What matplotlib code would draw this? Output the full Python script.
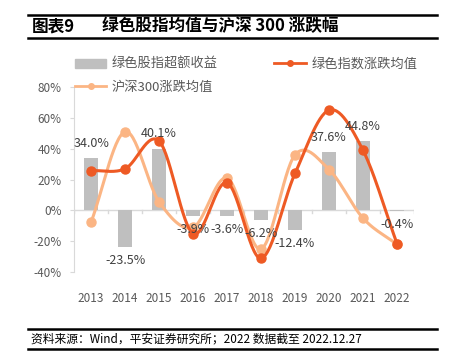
import numpy as np
import matplotlib.pyplot as plt
from matplotlib.lines import Line2D
from matplotlib.patches import Patch

plt.rcParams['font.family'] = ['Noto Sans CJK SC', 'DejaVu Sans']

years = ['2013', '2014', '2015', '2016', '2017', '2018', '2019', '2020', '2021', '2022']
excess = [34.0, -23.5, 40.1, -3.9, -3.6, -6.2, -12.4, 37.6, 44.8, -0.4]
green_avg = [25.8, 27.0, 45.0, -15.0, 18.0, -31.0, 24.0, 65.0, 39.0, -21.5]
hs300_avg = [-7.6, 51.0, 5.6, -11.0, 21.0, -25.0, 36.0, 26.5, -5.0, -22.0]

c_dark = '#EE5A24'
c_light = '#FBB584'
c_bar = '#BFBFBF'
c_txt = '#595959'


def smooth(y, n=30):
    # catmull-rom curve through the points, like excel smoothed lines
    p = np.array(y, dtype=float)
    x = np.arange(len(p), dtype=float)
    pp = np.concatenate([[2 * p[0] - p[1]], p, [2 * p[-1] - p[-2]]])
    xs, ys = [], []
    for i in range(len(p) - 1):
        p0, p1, p2, p3 = pp[i], pp[i + 1], pp[i + 2], pp[i + 3]
        t = np.linspace(0, 1, n, endpoint=False)
        yy = 0.5 * (2 * p1 + (-p0 + p2) * t + (2 * p0 - 5 * p1 + 4 * p2 - p3) * t ** 2
                    + (-p0 + 3 * p1 - 3 * p2 + p3) * t ** 3)
        xs.append(x[i] + t)
        ys.append(yy)
    xs.append([x[-1]])
    ys.append([p[-1]])
    return np.concatenate(xs), np.concatenate(ys)


fig = plt.figure(figsize=(4.49, 3.53), dpi=100)
ax = fig.add_axes([0.165, 0.229, 0.757, 0.5245])

x = np.arange(len(years))
ax.bar(x, excess, width=0.42, color=c_bar, zorder=1)

sx, sy = smooth(hs300_avg)
ax.plot(sx, sy, color=c_light, lw=2.2, zorder=2)
ax.plot(x, hs300_avg, 'o', color=c_light, ms=6.5, zorder=2)
sx, sy = smooth(green_avg)
ax.plot(sx, sy, color=c_dark, lw=2.2, zorder=3)
ax.plot(x, green_avg, 'o', color=c_dark, ms=6.5, zorder=3)

for i, v in enumerate(excess):
    lab = '%.1f%%' % v
    if v >= 0:
        ax.annotate(lab, (i, v), xytext=(0, 6), textcoords='offset points',
                    ha='center', va='bottom', fontsize=9, color='#404040', zorder=4)
    else:
        ax.annotate(lab, (i, v), xytext=(0, -5), textcoords='offset points',
                    ha='center', va='top', fontsize=9, color='#404040', zorder=4)

ax.set_xlim(-0.5, 9.5)
ax.set_ylim(-40, 80)
ax.set_yticks(range(-40, 81, 20))
ax.set_yticklabels(['%d%%' % v for v in range(-40, 81, 20)])
ax.set_xticks(x)
ax.set_xticklabels(years)
ax.tick_params(axis='both', colors=c_txt, labelsize=8.5, length=0)
ax.tick_params(axis='x', pad=14)
ax.tick_params(axis='y', pad=6, length=3, color='#D9D9D9')
for s in ['top', 'right', 'bottom']:
    ax.spines[s].set_visible(False)
ax.spines['left'].set_color('#D9D9D9')
ax.axhline(0, color='#D9D9D9', lw=1, zorder=0)
for b in np.arange(-0.5, 10, 1):
    ax.plot([b, b], [0, -1.5], color='#D9D9D9', lw=1, zorder=0)

# legend: column-major fill, so order is bar, hs300, green
h1 = Patch(color=c_bar)
h2 = Line2D([], [], color=c_dark, lw=2, marker='o', ms=4)
h3 = Line2D([], [], color=c_light, lw=2, marker='o', ms=4)
fig.legend([h1, h3, h2], ['绿色股指超额收益', '沪深300涨跌均值', '绿色指数涨跌均值'],
           ncol=2, loc='upper left', bbox_to_anchor=(0.14, 0.87), frameon=False,
           fontsize=9.5, labelcolor=c_txt, handlelength=2.4, columnspacing=4.3,
           handletextpad=0.4, labelspacing=0.75)

# title and footer
fig.add_artist(Line2D([0.062, 0.973], [0.957, 0.957], color='black', lw=1.8))
fig.add_artist(Line2D([0.062, 0.973], [0.892, 0.892], color='black', lw=1.8))
fig.text(0.07, 0.925, '图表9', fontsize=12, fontweight='bold', va='center')
fig.text(0.227, 0.925, '绿色股指均值与沪深 300 涨跌幅', fontsize=12, fontweight='bold', va='center')
fig.add_artist(Line2D([0.062, 0.973], [0.068, 0.068], color='black', lw=1.8))
fig.add_artist(Line2D([0.062, 0.973], [0.012, 0.012], color='black', lw=1.8))
fig.text(0.07, 0.04, '资料来源：Wind，平安证券研究所；2022 数据截至 2022.12.27', fontsize=8.5,
         style='italic', va='center')

fig.savefig('out.png', dpi=100)
